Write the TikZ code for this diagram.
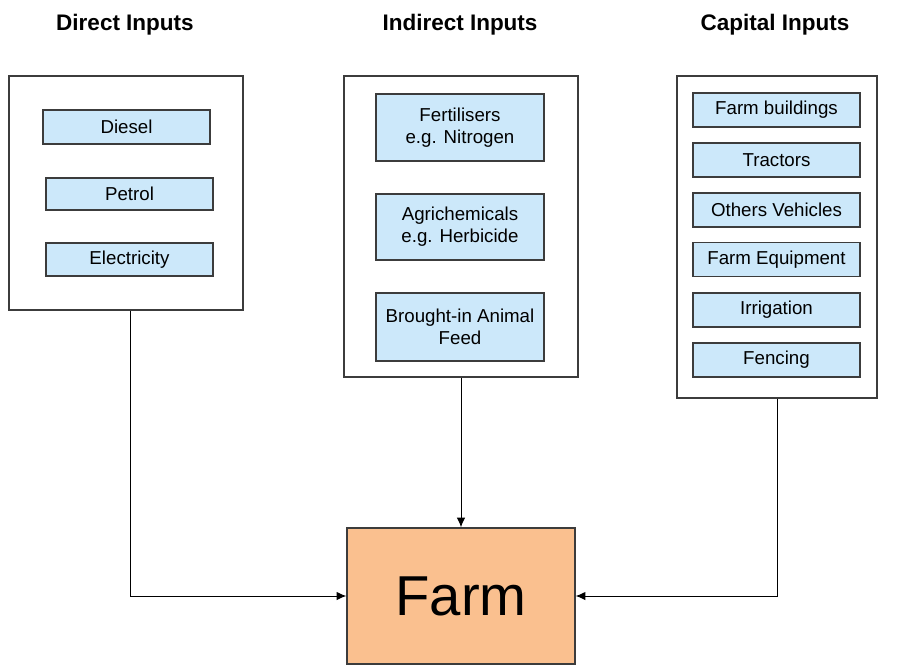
\documentclass[tikz,border=0pt]{standalone}
\usepackage{fontspec}
\setmainfont{Liberation Sans}
\usetikzlibrary{arrows.meta}
\definecolor{itemblue}{RGB}{204,232,250}
\definecolor{farmorange}{RGB}{250,192,143}
\definecolor{boxgray}{RGB}{60,60,60}
\begin{document}
\begin{tikzpicture}[x=0.025cm,y=-0.025cm,
    heading/.style={font=\fontsize{16}{18}\selectfont\bfseries},
    group/.style={draw=boxgray,line width=0.9pt,fill=white},
    item/.style={draw=boxgray,line width=0.8pt,fill=itemblue,align=center,
      font=\fontsize{13.3}{15.6}\selectfont,inner sep=0pt},
    flow/.style={-{Latex[length=7pt,width=6pt]},line width=0.7pt}]
        \useasboundingbox (0,0) rectangle (903,665);%
        % headings
        \node[heading] (hdirect) at (125,25) {Direct Inputs};%
        \node[heading] (hindirect) at (460,25) {Indirect Inputs};%
        \node[heading] (hcapital) at (775,25) {Capital Inputs};%
        % group boxes
        \node[group,minimum width=5.85cm,minimum height=5.85cm] (direct) at (126,193) {};%
        \node[group,minimum width=5.85cm,minimum height=7.525cm] (indirect) at (461,226.5) {};%
        \node[group,minimum width=5cm,minimum height=8.05cm] (capital) at (777,237) {};%
        % direct inputs
        \node[item,minimum width=4.175cm,minimum height=0.85cm] (diesel) at (126.5,127) {Diesel};%
        \node[item,minimum width=4.175cm,minimum height=0.8cm] (petrol) at (129.5,194) {Petrol};%
        \node[item,minimum width=4.175cm,minimum height=0.825cm] (elec) at (129.5,259.5) {Electricity};%
        % indirect inputs
        \node[item,minimum width=4.2cm,minimum height=1.675cm] (fert) at (460,127.5) {Fertilisers\\e.g. Nitrogen};%
        \node[item,minimum width=4.2cm,minimum height=1.65cm] (agri) at (460,227) {Agrichemicals\\e.g. Herbicide};%
        \node[item,minimum width=4.2cm,minimum height=1.7cm] (feed) at (460,327) {Brought-in Animal\\Feed};%
        % capital inputs
        \node[item,minimum width=4.175cm,minimum height=0.85cm] (build) at (776.5,110) {Farm buildings};%
        \node[item,minimum width=4.175cm,minimum height=0.85cm] (tract) at (776.5,160) {Tractors};%
        \node[item,minimum width=4.175cm,minimum height=0.85cm] (vehic) at (776.5,210) {Others Vehicles};%
        \node[item,minimum width=4.175cm,minimum height=0.85cm] (equip) at (776.5,259.5) {Farm Equipment};%
        \node[item,minimum width=4.175cm,minimum height=0.85cm] (irrig) at (776.5,310) {Irrigation};%
        \node[item,minimum width=4.175cm,minimum height=0.85cm] (fence) at (776.5,360) {Fencing};%
        % farm
        \node[draw=boxgray,line width=0.8pt,fill=farmorange,minimum width=5.7cm,minimum height=3.4cm,
          font=\fontsize{40}{44}\selectfont] (farm) at (461,596) {Farm};%
        % connectors
        \draw[flow] (direct.south -| 130,0) |- (farm.west);%
        \draw[flow] (indirect.south) -- (farm.north);%
        \draw[flow] (capital.south) |- (farm.east);%
      \end{tikzpicture}
\end{document}
